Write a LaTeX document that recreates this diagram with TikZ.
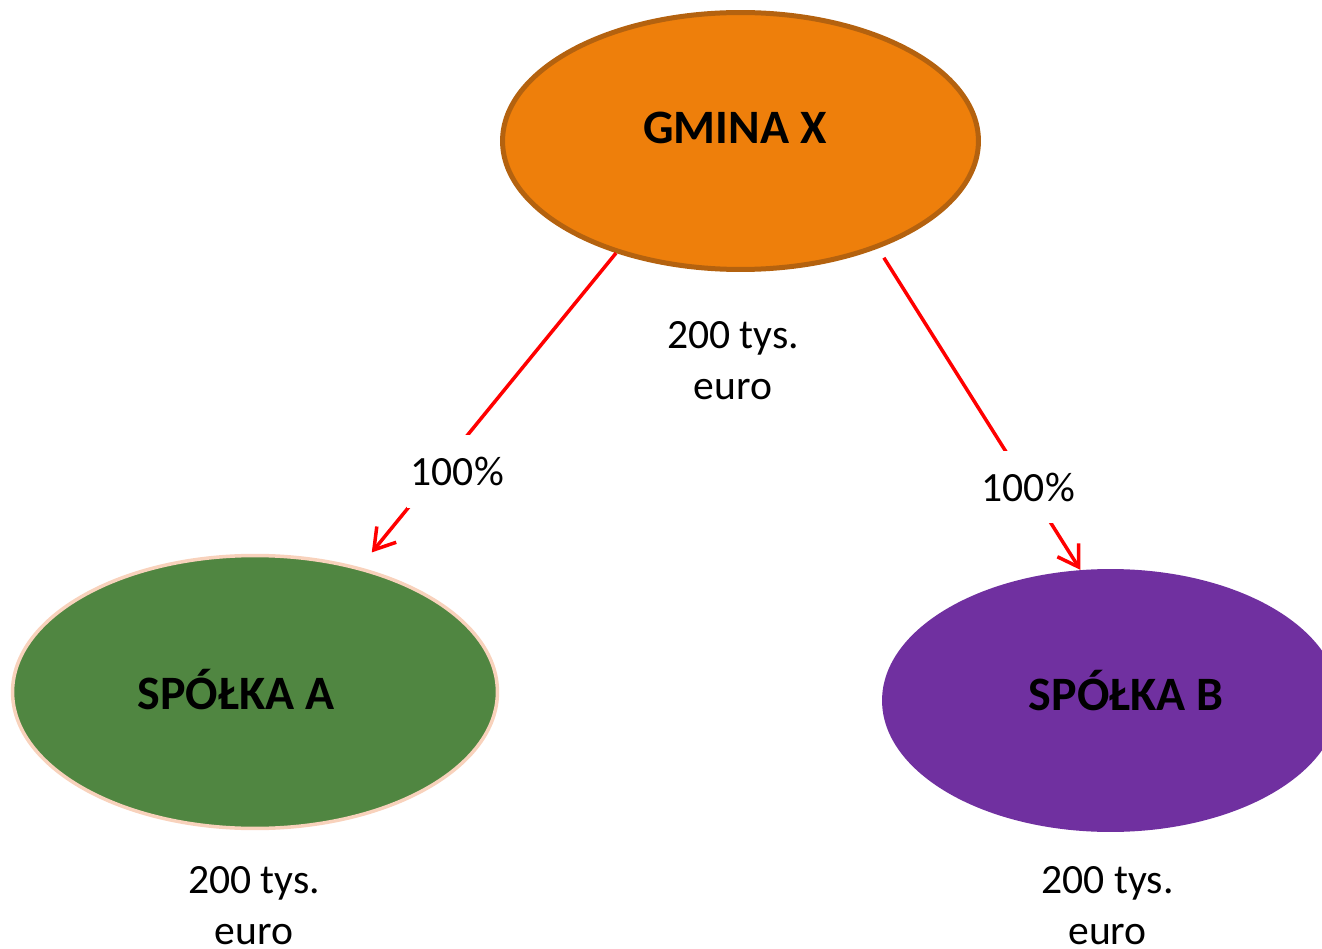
\documentclass[tikz,border=0pt]{standalone}
\usepackage{fontspec}
\setmainfont{Carlito}
\usetikzlibrary{arrows.meta,shapes.geometric}

\definecolor{gminaorange}{HTML}{EE7F0B}
\definecolor{gminaborder}{HTML}{B4620F}
\definecolor{spagreen}{HTML}{508641}
\definecolor{spaborder}{HTML}{F8D2BC}
\definecolor{spbpurple}{HTML}{7030A0}

\begin{document}
\begin{tikzpicture}[x=0.02cm,y=-0.02cm,
  entity/.style={ellipse,inner sep=0pt},
  enttext/.style={font=\fontsize{27.3}{32}\selectfont\bfseries},
  amount/.style={align=center,font=\fontsize{23.7}{29}\selectfont},
  pct/.style={fill=white,inner xsep=2pt,inner ysep=0.44cm,font=\fontsize{23.7}{29}\selectfont},
  link/.style={draw=red,line width=0.07cm,-{Straight Barb[length=0.4cm,width=0.5cm]}}]
\useasboundingbox (0,0) rectangle (1322,949);

% Nodes
\node[entity,fill=gminaorange,draw=gminaborder,line width=0.1cm,minimum width=9.52cm,minimum height=5.14cm,
  label={[enttext,xshift=-0.11cm,yshift=0.26cm]center:GMINA X}] (gmina) at (740.5,141) {};
\node[entity,fill=spagreen,draw=spaborder,line width=0.07cm,minimum width=9.7cm,minimum height=5.46cm,
  label={[enttext,xshift=-0.38cm,yshift=0.04cm]center:SPÓŁKA A}] (spA) at (255,692) {};
\node[entity,fill=spbpurple,minimum width=9.14cm,minimum height=5.26cm,
  label={[enttext,xshift=0.31cm,yshift=0.2cm]center:SPÓŁKA B}] (spB) at (1110.5,700.5) {};

\node[amount] (valG) at (733,361) {200 tys.\\euro};
\node[amount] (valA) at (254,906) {200 tys.\\euro};
\node[amount] (valB) at (1107.5,906) {200 tys.\\euro};

%arcs
\path (gmina.222) edge[link,shorten >=0.38cm] node[pct,pos=0.6955,xshift=0.39cm] (pctA) {100\%} (spA.50);
\path (gmina.322) edge[link,shorten <=0.22cm] node[pct,pos=0.7426] (pctB) {100\%} (spB.103);

\end{tikzpicture}
\end{document}
